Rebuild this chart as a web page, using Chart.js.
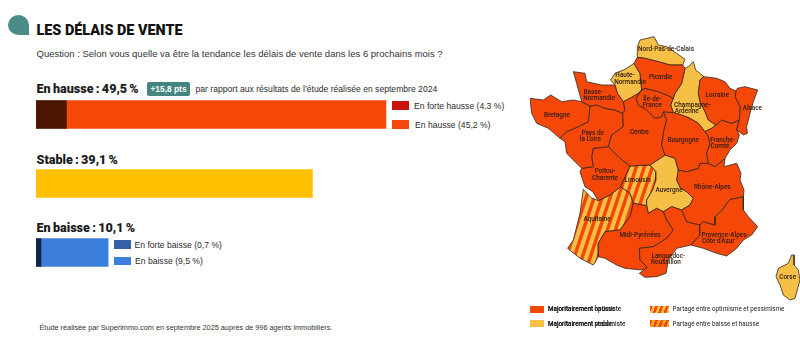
<!DOCTYPE html>
<html lang="fr">
<head>
<meta charset="utf-8">
<title>Les délais de vente</title>
<script src="https://cdn.jsdelivr.net/npm/chart.js@4"></script>
<style>
  html, body { margin: 0; background: #fff; }
  body { position: relative; width: 800px; height: 359px; overflow: hidden; font-family: "Liberation Sans", sans-serif; color: #222; }
  canvas { position: absolute; }
  .txt { position: absolute; white-space: nowrap; transform: translateY(-50%); line-height: 1; }
  .head { font-family: Roboto, sans-serif; font-weight: 900; font-size: 12.6px; word-spacing: -0.9px; color: #1c1c1c; }
  .note { font-size: 8.6px; color: #2b2b2b; }
  .map-key { font-family: Roboto, sans-serif; font-weight: 500; font-size: 6.3px; color: #222; }
  .swatch { position: absolute; }
  #blob { position: absolute; left: 8px; top: 15px; width: 21px; height: 20px; background: #4a8d88; border-radius: 50% 50% 0 50%; }
  #badge { position: absolute; left: 147px; top: 82px; width: 43px; height: 14px; background: #45857f; border-radius: 2px; color: #fff; font-weight: 700; font-size: 8.4px; line-height: 14px; text-align: center; }
</style>
</head>
<body>
<div id="blob"></div>
<div class="txt" style="left:36.5px;top:31px;font-family:Roboto,sans-serif;font-weight:900;font-size:14.4px;color:#111">LES DÉLAIS DE VENTE</div>
<div class="txt" style="left:36.5px;top:53.5px;font-size:9.5px;color:#333">Question : Selon vous quelle va être la tendance les délais de vente dans les 6 prochains mois ?</div>
<div class="txt head" style="left:36.5px;top:89px">En hausse : 49,5 %</div>
<div id="badge">+15,8 pts</div>
<div class="txt note" style="left:195.5px;top:89px">par rapport aux résultats de l’étude réalisée en septembre 2024</div>
<div class="swatch" style="left:392px;top:101px;width:17px;height:9px;background:#c8140a"></div>
<div class="txt note" style="left:414px;top:105.5px">En forte hausse (4,3 %)</div>
<div class="swatch" style="left:392px;top:119.5px;width:17px;height:9px;background:#f54707"></div>
<div class="txt note" style="left:415px;top:124.5px">En hausse (45,2 %)</div>
<div class="txt head" style="left:36.5px;top:159.5px">Stable : 39,1 %</div>
<div class="txt head" style="left:36.5px;top:227.5px">En baisse : 10,1 %</div>
<div class="swatch" style="left:113.5px;top:240px;width:17px;height:8.5px;background:#3560a8"></div>
<div class="txt note" style="left:134.5px;top:244.5px">En forte baisse (0,7 %)</div>
<div class="swatch" style="left:114px;top:256.5px;width:17px;height:8.5px;background:#3c7edb"></div>
<div class="txt note" style="left:135px;top:261px">En baisse (9,5 %)</div>
<div class="txt" style="left:39.5px;top:328px;font-size:7.3px;color:#333">Étude réalisée par Superimmo.com en septembre 2025 auprès de 996 agents immobiliers.</div>

<canvas id="bars" width="480" height="207" style="left:36px;top:80px"></canvas>
<canvas id="map" width="270" height="309" style="left:530px;top:30px"></canvas>

<div class="swatch" style="left:530px;top:306px;width:14px;height:7px;background:#f54707"></div>
<div class="txt map-key" style="left:548px;top:309px">Majoritairement optimiste</div>
<div class="txt map-key" style="left:548px;top:309px">Majoritairement hausse</div>
<div class="swatch" style="left:530px;top:320px;width:14px;height:7px;background:#f6bf45"></div>
<div class="txt map-key" style="left:548px;top:323.5px">Majoritairement pessimiste</div>
<div class="txt map-key" style="left:548px;top:323.5px">Majoritairement stable</div>
<div class="swatch" style="left:649.5px;top:306px;width:19px;height:7px;background:repeating-linear-gradient(112deg,#f54707 0 2.5px,#f6bf45 2.5px 5px)"></div>
<div class="txt map-key" style="left:672.5px;top:309px;font-weight:400">Partagé entre optimisme et pessimisme</div>
<div class="swatch" style="left:649.5px;top:320px;width:19px;height:7px;background:repeating-linear-gradient(112deg,#f54707 0 2.5px,#f6a623 2.5px 5px)"></div>
<div class="txt map-key" style="left:672.5px;top:323.5px;font-weight:400">Partagé entre baisse et hausse</div>

<script>
// bars, in %
const categories = ['En hausse', 'Stable', 'En baisse'];
const strongValues = [4.3, 0, 0.7];
const mainValues = [45.2, 39.1, 9.5];

// region outlines (map units, y going down)
const nord = [[322,50],[330,30],[372,20],[385,45],[410,50],[440,70],[465,88],[458,105],[420,105],[385,95],[345,85],[322,82]];
const picardie = [[322,82],[345,85],[385,95],[420,105],[458,105],[465,115],[455,160],[435,190],[430,205],[410,195],[385,185],[345,175],[335,180],[330,130],[312,100]];
const hauteNormandie = [[312,100],[330,130],[335,180],[325,190],[300,205],[280,215],[262,190],[255,165],[242,150],[255,130],[285,118]];
const champagne = [[490,95],[497,120],[522,140],[510,150],[505,190],[510,215],[525,245],[535,270],[558,285],[545,295],[525,305],[505,280],[480,265],[455,255],[430,248],[422,225],[435,190],[455,160],[465,115],[478,108]];
const ileDeFrance = [[335,180],[345,175],[385,185],[410,195],[430,205],[422,225],[430,248],[400,245],[395,260],[375,265],[350,240],[325,225],[318,205]];
const lorraine = [[522,140],[560,145],[585,155],[600,175],[618,183],[615,200],[630,230],[628,270],[605,280],[575,270],[558,285],[535,270],[525,245],[510,215],[505,190],[510,150]];
const alsace = [[618,183],[622,175],[645,170],[683,180],[670,215],[660,250],[650,290],[652,310],[640,315],[620,300],[628,270],[630,230],[615,200]];
const francheComte = [[558,285],[575,270],[605,280],[628,270],[620,300],[628,315],[620,340],[600,360],[585,385],[555,410],[535,400],[530,370],[540,340],[535,320],[525,305],[545,295]];
const bourgogne = [[400,245],[430,248],[455,255],[480,265],[505,280],[525,305],[535,320],[540,340],[530,370],[535,400],[510,400],[505,415],[470,425],[445,420],[435,385],[405,375],[395,345],[402,300],[410,270]];
const centre = [[280,215],[300,205],[325,190],[335,180],[318,205],[325,225],[350,240],[375,265],[395,260],[400,245],[410,270],[402,300],[395,345],[405,375],[360,405],[300,408],[270,385],[235,350],[245,315],[280,290],[278,250],[285,240]];
const basseNormandie = [[130,125],[165,130],[170,155],[215,165],[255,165],[262,190],[280,215],[285,240],[278,250],[255,240],[225,235],[200,225],[180,228],[155,215],[140,160]];
const bretagne = [[0,205],[40,210],[62,195],[95,215],[130,210],[155,215],[180,228],[175,275],[145,290],[110,305],[90,325],[55,295],[20,280],[5,250]];
const paysDeLaLoire = [[180,228],[200,225],[225,235],[255,240],[278,250],[280,290],[245,315],[235,350],[190,355],[185,380],[190,410],[155,415],[135,395],[110,370],[105,335],[90,325],[110,305],[145,290],[175,275]];
const poitou = [[190,355],[235,350],[270,385],[300,408],[285,440],[272,470],[240,495],[205,512],[188,485],[165,470],[155,440],[150,425],[155,415],[190,410],[185,380]];
const limousin = [[300,408],[360,405],[378,425],[378,450],[368,480],[350,510],[350,527],[310,520],[300,490],[272,470],[285,440]];
const auvergne = [[360,405],[405,375],[435,385],[445,420],[440,450],[452,475],[470,485],[490,505],[480,525],[455,540],[425,530],[400,545],[380,535],[355,550],[350,527],[350,510],[368,480],[378,450],[378,425]];
const rhoneAlpes = [[445,420],[470,425],[505,415],[510,400],[535,400],[555,410],[585,385],[582,410],[620,400],[633,430],[630,450],[642,480],[640,500],[600,508],[590,520],[580,535],[555,560],[555,585],[520,575],[510,585],[470,575],[455,540],[480,525],[490,505],[470,485],[452,475],[440,450]];
const paca = [[640,500],[640,540],[655,560],[683,590],[665,615],[640,630],[620,655],[590,678],[560,670],[520,655],[483,645],[510,615],[510,585],[520,575],[555,585],[555,560],[580,535],[590,520],[600,508]];
const languedoc = [[400,545],[425,530],[455,540],[470,575],[510,585],[510,615],[483,645],[440,655],[415,690],[408,730],[380,740],[345,742],[328,730],[352,712],[330,690],[328,655],[370,650],[410,625],[430,600],[410,570]];
const midiPyrenees = [[310,520],[350,527],[355,550],[380,535],[400,545],[410,570],[430,600],[410,625],[370,650],[328,655],[330,690],[352,712],[335,720],[285,715],[260,705],[225,685],[205,680],[205,640],[225,605],[270,600],[300,560]];
const aquitaine = [[160,478],[183,503],[205,512],[240,495],[272,470],[300,490],[310,520],[300,560],[270,600],[225,605],[205,640],[205,680],[190,705],[150,685],[113,655],[130,630],[150,550]];
const corse = [[785,675],[793,675],[792,705],[805,720],[810,750],[795,805],[780,810],[760,795],[750,765],[738,740],[745,715],[775,700]];

const optimisticRegions = [picardie, ileDeFrance, lorraine, alsace, francheComte, bourgogne, centre, basseNormandie, bretagne, paysDeLaLoire, poitou, rhoneAlpes, paca, languedoc, midiPyrenees];
const pessimisticRegions = [nord, hauteNormandie, champagne, auvergne, corse];
const sharedRegions = [limousin, aquitaine];

const regionLabels = [
  ['Nord-Pas-de-Calais', 408, 58], ['Picardie', 392, 141], ['Haute-', 285, 135], ['Normandie', 300, 156],
  ['Basse-', 190, 187], ['Normandie', 207, 205], ['Bretagne', 81, 255], ['Pays de', 188, 310], ['la Loire', 181, 328],
  ['Île-de-', 367, 207], ['France', 367, 226], ['Centre', 328, 307], ['Bourgogne', 460, 331],
  ['Champagne-', 487, 225], ['Ardenne', 470, 243], ['Lorraine', 562, 197], ['Alsace', 667, 234],
  ['Franche-', 578, 331], ['Comté', 570, 349], ['Poitou-', 225, 425], ['Charente', 225, 445], ['Limousin', 323, 452],
  ['Auvergne', 417, 480], ['Rhône-Alpes', 547, 471], ['Aquitaine', 201, 569], ['Midi-Pyrénées', 330, 615],
  ['Provence-Alpes-', 585, 615], ['Côte d\'Azur', 565, 633], ['Languedoc-', 415, 678], ['Roussillon', 408, 696], ['Corse', 773, 741],
];

const ORANGE = '#f54707';
const YELLOW = '#f6bf45';

// diagonal stripes for the shared regions, tile has to repeat without a seam
function stripes() {
  const tile = document.createElement('canvas');
  tile.width = 8;
  tile.height = 24;
  const ctx = tile.getContext('2d');
  ctx.fillStyle = YELLOW;
  ctx.fillRect(0, 0, 8, 24);
  ctx.strokeStyle = ORANGE;
  ctx.lineWidth = 3.4;
  for (let i = -16; i <= 16; i += 8) {
    ctx.beginPath();
    ctx.moveTo(i - 1, 27);
    ctx.lineTo(i + 9, -3);
    ctx.stroke();
  }
  return ctx.createPattern(tile, 'repeat');
}

new Chart(document.getElementById('bars'), {
  type: 'bar',
  data: {
    labels: categories,
    datasets: [
      { data: strongValues, backgroundColor: ['#4a1503', '#ffc000', '#0f2745'], barThickness: 28 },
      { data: mainValues, backgroundColor: [ORANGE, '#ffc000', '#3c7edb'], barThickness: 28 },
    ],
  },
  options: {
    indexAxis: 'y',
    responsive: false,
    animation: false,
    plugins: { legend: { display: false }, tooltip: { enabled: false } },
    scales: {
      x: { stacked: true, display: false, min: 0, max: 67.9 },
      y: { stacked: true, display: false },
    },
  },
});

const regionDataset = (outline, fillColor) => ({
  data: outline.map(([x, y]) => ({ x, y })),
  showLine: true,
  fill: 'shape',
  backgroundColor: fillColor,
  borderColor: '#33261e',
  borderWidth: 0.8,
  pointRadius: 0,
  clip: false,
});

const mapLabels = {
  id: 'mapLabels',
  afterDatasetsDraw(chart) {
    const { ctx, scales } = chart;
    ctx.save();
    ctx.font = '500 6.4px Roboto, sans-serif';
    ctx.fillStyle = '#2a1c12';
    ctx.textAlign = 'center';
    ctx.textBaseline = 'middle';
    for (const [text, x, y] of regionLabels) {
      ctx.fillText(text, scales.x.getPixelForValue(x), scales.y.getPixelForValue(y));
    }
    ctx.restore();
  },
};

const closeRing = (outline) => [...outline, outline[0]];
const pattern = stripes();

new Chart(document.getElementById('map'), {
  type: 'scatter',
  data: {
    datasets: [
      ...optimisticRegions.map((outline) => regionDataset(closeRing(outline), ORANGE)),
      ...pessimisticRegions.map((outline) => regionDataset(closeRing(outline), YELLOW)),
      ...sharedRegions.map((outline) => regionDataset(closeRing(outline), pattern)),
    ],
  },
  options: {
    responsive: false,
    animation: false,
    plugins: { legend: { display: false }, tooltip: { enabled: false } },
    scales: {
      x: { display: false, min: 0, max: 810 },
      y: { display: false, reverse: true, min: 0, max: 927 },
    },
  },
  plugins: [mapLabels],
});
</script>
</body>
</html>
